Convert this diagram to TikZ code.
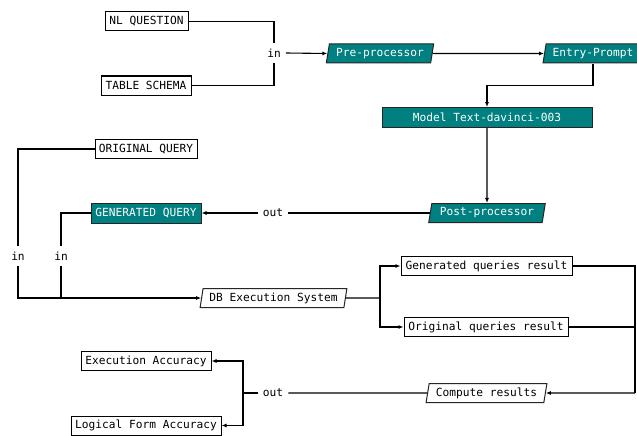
\documentclass[tikz,border=0pt]{standalone}
\usepackage{fontspec}
\setmonofont{DejaVu Sans Mono}
\usetikzlibrary{shapes.geometric,arrows.meta}
\definecolor{tealbox}{RGB}{0,128,128}
\begin{document}
\begin{tikzpicture}[x=1pt,y=-1pt,
  every node/.style={font=\fontsize{11.2}{13}\selectfont\ttfamily},
  plainbox/.style={draw=black,line width=1pt,fill=white,rectangle,inner sep=0pt,minimum height=19pt},
  tealrect/.style={draw=black!85,line width=1pt,fill=tealbox,text=white,rectangle,inner sep=0pt,minimum height=20pt},
  slantbox/.style={draw=black!85,line width=1pt,trapezium,trapezium left angle=76,trapezium right angle=104,trapezium stretches=true,inner sep=0pt,minimum height=19pt},
  tealslant/.style={slantbox,fill=tealbox,text=white},
  whiteslant/.style={slantbox,fill=white},
  lbl/.style={inner xsep=5pt,inner ysep=6pt,fill=white},
  conn/.style={line width=1.1pt,draw=black},
  arr/.style={conn,-{Latex[length=5pt,width=4pt]}}
]
\path[use as bounding box] (0,0) rectangle (637,436);

% nodes
\node[plainbox,minimum width=83pt] (nlq) at (146.5,21.5) {NL QUESTION};
\node[plainbox,minimum width=90pt] (ts) at (146,85.5) {TABLE SCHEMA};
\node[lbl] (lin1) at (274,53) {in};
\node[tealslant,minimum width=108pt] (pre) at (380,53.5) {Pre-processor};
\node[tealslant,minimum width=100pt] (ep) at (593,53.5) {Entry-Prompt};
\node[tealrect,minimum width=210pt] (model) at (487,117.5) {Model Text-davinci-003};
\node[tealslant,minimum width=117pt] (post) at (487,213) {Post-processor};
\node[lbl] (lout1) at (273,213) {out};
\node[tealrect,minimum width=110pt] (gq) at (146,213) {GENERATED QUERY};
\node[plainbox,minimum width=102pt] (oq) at (146,149) {ORIGINAL QUERY};
\node[lbl] (lin2) at (18,256) {in};
\node[lbl] (lin3) at (61,256) {in};
\node[whiteslant,minimum width=147pt] (db) at (273.5,298) {DB Execution System};
\node[plainbox,minimum width=171pt] (gr) at (486.5,266) {Generated queries result};
\node[plainbox,minimum width=164pt] (or) at (486,327) {Original queries result};
\node[whiteslant,minimum width=121pt] (cr) at (486.5,393) {Compute results};
\node[lbl] (lout2) at (273,393) {out};
\node[plainbox,minimum width=130pt] (ea) at (146,361) {Execution Accuracy};
\node[plainbox,minimum width=150pt] (lfa) at (146,425.5) {Logical Form Accuracy};

\coordinate (br1) at (380,298);
\coordinate (br2) at (635,393);
\coordinate (br3) at (243,393);

% connectors
\draw[conn] (nlq.east) -| (lin1.north);
\draw[conn] (ts.east) -| (lin1.south);
\draw[arr] (lin1.east) -- (pre.west);
\draw[arr] (pre.east) -- (ep.west);
\draw[arr] (ep.south) -- ++(0,22) -| (model.north);
\draw[arr] (model.south) -- (post.north);
\draw[conn] (post.west) -- (lout1.east);
\draw[arr] (lout1.west) -- (gq.east);
\draw[conn] (oq.west) -| (lin2.north);
\draw[conn] (gq.west) -| (lin3.north);
\draw[arr] (lin2.south) |- (db.west);
\draw[conn] (lin3.south) -- (lin3 |- db.west);
\draw[conn] (db.east) -- (br1);
\draw[arr] (br1) |- (gr.west);
\draw[arr] (br1) |- (or.west);
\draw[conn] (gr.east) -| (br2);
\draw[conn] (or.east) -- (or.east -| br2);
\draw[arr] (br2) -- (cr.east);
\draw[conn] (cr.west) -- (lout2.east);
\draw[conn] (lout2.west) -- (br3);
\draw[arr] (br3) |- (ea.east);
\draw[arr] (br3) |- (lfa.east);
\end{tikzpicture}
\end{document}
